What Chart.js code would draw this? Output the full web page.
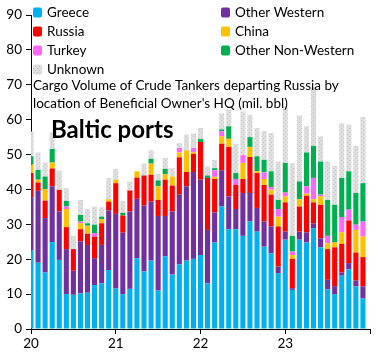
<!DOCTYPE html>
<html>
<head>
<meta charset="utf-8">
<script src="https://cdn.jsdelivr.net/npm/chart.js@4.4.1/dist/chart.umd.min.js"></script>
<style>
  html, body { margin: 0; padding: 0; background: #fff; }
</style>
</head>
<body>
<canvas id="chart" width="378" height="360"></canvas>
<script>
// monthly volumes Jan 2020 - Dec 2023, mil. bbl
const years = ['20', '21', '22', '23'];
const months = [];
years.forEach(y => { for (let m = 1; m <= 12; m++) months.push(y + '-' + String(m).padStart(2, '0')); });
months.push('24-01'); // end of the axis, no bar

const greece = [22.5, 19.0, 16.2, 24.9, 19.8, 10.0, 9.8, 10.2, 10.4, 12.6, 13.1, 16.9,
  11.7, 10.0, 11.5, 20.3, 16.5, 19.6, 11.0, 20.8, 15.6, 18.5, 19.6, 20.1,
  21.2, 13.1, 24.8, 35.2, 28.6, 28.6, 26.7, 30.8, 27.9, 23.6, 21.7, 16.0,
  25.6, 11.2, 25.6, 24.8, 28.9, 23.4, 11.4, 10.0, 15.3, 17.1, 12.2, 8.8];
const otherWestern = [15.3, 20.6, 15.6, 16.0, 13.9, 12.9, 6.9, 14.9, 13.7, 7.7, 11.0, 17.1,
  21.3, 17.6, 22.2, 17.0, 18.9, 16.9, 21.4, 11.6, 18.1, 20.0, 21.3, 24.9,
  21.6, 15.3, 8.6, 10.3, 9.4, 5.8, 12.3, 8.2, 6.8, 7.2, 7.7, 1.9,
  2.3, 0.5, 2.3, 2.9, 1.4, 2.6, 2.7, 2.3, 0.9, 1.8, 1.7, 3.4];
const russia = [6.9, 2.4, 5.0, 5.1, 6.2, 6.3, 6.2, 3.5, 3.2, 6.2, 6.2, 2.5,
  8.8, 4.9, 6.0, 6.1, 8.6, 7.7, 4.6, 10.4, 7.4, 10.7, 4.1, 5.2,
  10.8, 14.9, 9.6, 7.6, 14.2, 6.9, 4.0, 10.3, 10.0, 10.5, 9.1, 11.5,
  8.4, 8.4, 7.2, 10.5, 6.0, 9.6, 8.8, 11.1, 8.2, 12.2, 8.0, 8.4];
const china = [2.4, 0.8, 3.3, 1.7, 0, 5.2, 0, 1.7, 2.3, 0, 1.2, 0.7,
  1.0, 0, 0, 1.8, 0, 3.2, 3.9, 1.6, 2.6, 1.4, 6.2, 0.5,
  0, 0, 0.6, 2.1, 2.3, 0, 4.6, 2.9, 0.5, 1.7, 1.4, 2.8,
  1.7, 1.1, 2.1, 0.6, 0.9, 2.4, 1.7, 1.4, 3.3, 0, 6.5, 5.9];
const turkey = [0, 0, 0, 0, 0, 0.7, 0, 0.5, 0, 1.0, 0, 0,
  0, 0, 0, 0, 0, 0, 0, 0, 0, 1.3, 0, 1.2,
  0, 0, 1.9, 1.5, 0, 1.7, 2.2, 0, 0, 1.9, 0.8, 2.2,
  1.1, 1.0, 0, 2.1, 6.1, 0.5, 2.1, 0, 4.4, 3.1, 1.5, 4.3];
const otherNonWestern = [2.4, 2.8, 3.6, 3.9, 0, 1.6, 0, 1.9, 0.7, 2.4, 0.7, 0,
  0, 0.8, 0, 0, 0, 1.4, 1.7, 1.5, 0, 0, 0, 0,
  0.9, 0.7, 0.6, 0.5, 3.6, 1.7, 0, 2.8, 4.3, 3.6, 4.5, 2.6,
  8.5, 4.5, 5.1, 9.7, 9.2, 9.5, 10.3, 10.8, 11.2, 11.0, 9.1, 11.0];
const unknown = [7.1, 5.0, 4.0, 4.8, 5.5, 3.7, 3.8, 4.3, 4.1, 5.2, 2.7, 6.1,
  3.1, 3.4, 2.6, 0, 3.4, 2.4, 1.9, 3.1, 2.4, 1.4, 4.5, 4.1,
  3.1, 2.6, 2.4, 4.6, 4.8, 8.4, 12.6, 6.4, 8.1, 8.3, 11.0, 11.0,
  16.2, 20.9, 18.9, 7.5, 16.6, 7.2, 11.0, 11.2, 15.6, 13.4, 13.5, 19.0];

const FONT = 'Lato, "Open Sans", sans-serif';

// speckled grey fill for "Unknown"
function dotPattern() {
    const c = document.createElement('canvas');
    c.width = 4; c.height = 4;
    const g = c.getContext('2d');
    g.fillStyle = '#dedede';
    g.fillRect(0, 0, 4, 4);
    g.fillStyle = '#c6c6c6';
    g.fillRect(1, 0, 1, 1);
    g.fillRect(3, 2, 1, 1);
    return g.createPattern(c, 'repeat');
}

// two-column legend + titles, drawn on top
const overlay = {
    id: 'overlay',
    afterDraw(chart) {
        const ctx = chart.ctx;
        ctx.save();
        ctx.textBaseline = 'middle';
        ctx.font = '13.5px ' + FONT;
        chart.data.datasets.forEach((ds, i) => {
            const x = (i % 2) ? 221 : 33;
            const y = 12.5 + Math.floor(i / 2) * 19;
            ctx.fillStyle = ds.backgroundColor;
            ctx.beginPath();
            ctx.roundRect(x, y - 5, 9, 10, 2);
            ctx.fill();
            ctx.fillStyle = '#000';
            ctx.fillText(ds.label, x + 14, y + 0.5);
        });
        ctx.fillText('Cargo Volume of Crude Tankers departing Russia by', 33, 86);
        ctx.fillText('location of Beneficial Owner\'s HQ (mil. bbl)', 33, 103.5);
        ctx.font = 'bold 24px ' + FONT;
        ctx.fillText('Baltic ports', 51, 130);
        ctx.restore();
    }
};

const series = [
    { label: 'Greece', data: greece, backgroundColor: '#00b0f0' },
    { label: 'Other Western', data: otherWestern, backgroundColor: '#7030a0' },
    { label: 'Russia', data: russia, backgroundColor: '#ff0000' },
    { label: 'China', data: china, backgroundColor: '#ffc000' },
    { label: 'Turkey', data: turkey, backgroundColor: '#ff66ff' },
    { label: 'Other Non-Western', data: otherNonWestern, backgroundColor: '#00b050' },
    { label: 'Unknown', data: unknown, backgroundColor: dotPattern() }
];

new Chart(document.getElementById('chart'), {
    type: 'bar',
    data: {
        labels: months,
        datasets: series.map(s => ({ ...s, borderWidth: 0, barPercentage: 0.72, categoryPercentage: 1 }))
    },
    options: {
        responsive: false,
        animation: false,
        layout: { padding: { top: 15, right: 8, left: 0, bottom: 0 } },
        plugins: { legend: { display: false }, tooltip: { enabled: false } },
        scales: {
            x: {
                stacked: true,
                offset: false,
                afterFit: s => { s.height = 31; },
                border: { color: '#000', width: 1 },
                grid: {
                    offset: false, drawOnChartArea: false, tickLength: 5,
                    color: c => (c.index % 12 === 0 ? '#000' : 'rgba(0,0,0,0)')
                },
                ticks: {
                    autoSkip: false, maxRotation: 0, padding: 2,
                    color: '#000', font: { family: FONT, size: 13.5 },
                    callback: (v, i) => (i % 12 === 0 ? (years[i / 12] || '') : '')
                }
            },
            y: {
                stacked: true,
                min: 0, max: 90,
                afterFit: s => { s.width = 31; },
                border: { color: '#000', width: 1 },
                grid: { drawOnChartArea: false, tickLength: 5, color: '#000' },
                ticks: { stepSize: 10, padding: 4, color: '#000', font: { family: FONT, size: 13.5 } }
            }
        }
    },
    plugins: [overlay]
});
</script>
</body>
</html>
